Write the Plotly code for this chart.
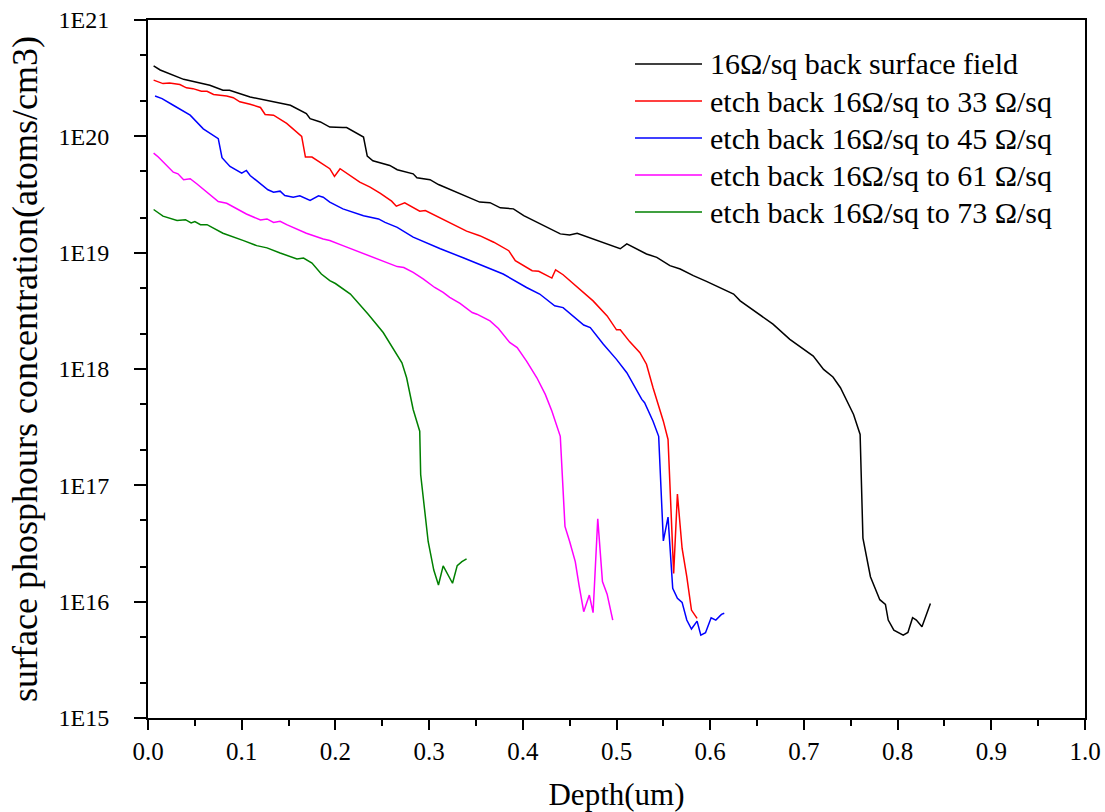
import plotly.graph_objects as go

# ---------------- data ----------------
depth_bsf = [0.006, 0.013, 0.038, 0.059, 0.066, 0.080, 0.087, 0.109, 0.127, 0.141, 0.152, 0.169, 0.173,
             0.184, 0.194, 0.208, 0.212, 0.230, 0.234, 0.240, 0.258, 0.266, 0.283, 0.287, 0.301, 0.310,
             0.333, 0.354, 0.365, 0.376, 0.390, 0.401, 0.440, 0.450, 0.458, 0.475, 0.504, 0.511, 0.532,
             0.543, 0.557, 0.568, 0.582, 0.596, 0.611, 0.625, 0.632, 0.650, 0.667, 0.685, 0.710, 0.721,
             0.731, 0.739, 0.753, 0.760, 0.763, 0.771, 0.781, 0.787, 0.790, 0.796, 0.806, 0.811, 0.816,
             0.820, 0.826, 0.835]
conc_bsf = [4.04e20, 3.72e20, 3.09e20, 2.84e20, 2.75e20, 2.49e20, 2.49e20, 2.18e20, 2.04e20, 1.91e20,
            1.85e20, 1.57e20, 1.42e20, 1.33e20, 1.20e20, 1.19e20, 1.19e20, 9.86e19, 6.76e19, 6.17e19,
            5.62e19, 5.16e19, 4.76e19, 4.41e19, 4.24e19, 3.85e19, 3.21e19, 2.72e19, 2.69e19, 2.43e19,
            2.38e19, 2.08e19, 1.45e19, 1.42e19, 1.47e19, 1.31e19, 1.08e19, 1.19e19, 9.75e18, 9.12e18,
            7.73e18, 7.24e18, 6.34e18, 5.66e18, 4.97e18, 4.41e18, 3.85e18, 3.06e18, 2.43e18, 1.80e18,
            1.29e18, 9.93e17, 8.53e17, 6.90e17, 4.07e17, 2.74e17, 3.52e16, 1.64e16, 1.04e16, 9.48e15,
            6.95e15, 5.70e15, 5.16e15, 5.43e15, 7.28e15, 6.95e15, 6.08e15, 9.66e15]

depth_33 = [0.006, 0.016, 0.023, 0.034, 0.041, 0.048, 0.057, 0.063, 0.070, 0.084, 0.091, 0.098, 0.109,
            0.120, 0.125, 0.134, 0.148, 0.164, 0.168, 0.175, 0.194, 0.199, 0.205, 0.216, 0.226, 0.237,
            0.248, 0.260, 0.265, 0.274, 0.290, 0.296, 0.312, 0.322, 0.340, 0.354, 0.369, 0.385, 0.392,
            0.410, 0.417, 0.431, 0.435, 0.443, 0.465, 0.475, 0.490, 0.500, 0.504, 0.514, 0.525, 0.532,
            0.539, 0.550, 0.555, 0.561, 0.565, 0.570, 0.575, 0.580, 0.586]
conc_33 = [3.04e20, 2.84e20, 2.88e20, 2.79e20, 2.61e20, 2.57e20, 2.44e20, 2.44e20, 2.29e20, 2.22e20,
           2.15e20, 1.98e20, 1.89e20, 1.77e20, 1.54e20, 1.52e20, 1.29e20, 1.00e20, 6.64e19, 6.64e19,
           5.27e19, 4.52e19, 5.27e19, 4.61e19, 4.04e19, 3.66e19, 3.24e19, 2.77e19, 2.51e19, 2.68e19,
           2.27e19, 2.30e19, 1.98e19, 1.79e19, 1.53e19, 1.40e19, 1.23e19, 1.04e19, 8.53e18, 7.00e18,
           6.92e18, 6.05e18, 7.13e18, 6.46e18, 4.55e18, 3.85e18, 2.86e18, 2.17e18, 2.17e18, 1.72e18,
           1.38e18, 1.10e18, 6.90e17, 3.56e17, 2.48e17, 1.75e16, 8.41e16, 2.88e16, 1.64e16, 8.47e15,
           7.18e15]

depth_45 = [0.0075, 0.015, 0.027, 0.045, 0.059, 0.075, 0.079, 0.0875, 0.100, 0.105, 0.109, 0.128, 0.134,
            0.141, 0.146, 0.155, 0.162, 0.173, 0.182, 0.187, 0.194, 0.208, 0.230, 0.246, 0.253, 0.266,
            0.283, 0.312, 0.337, 0.365, 0.379, 0.404, 0.418, 0.434, 0.443, 0.465, 0.472, 0.486, 0.500,
            0.511, 0.520, 0.527, 0.530, 0.539, 0.545, 0.550, 0.555, 0.560, 0.565, 0.570, 0.575, 0.580,
            0.586, 0.590, 0.595, 0.601, 0.606, 0.612, 0.615]
conc_45 = [2.22e20, 2.11e20, 1.85e20, 1.52e20, 1.16e20, 9.55e19, 6.55e19, 5.51e19, 4.83e19, 5.09e19,
           4.61e19, 3.47e19, 3.31e19, 3.38e19, 3.10e19, 3.00e19, 3.08e19, 2.81e19, 3.08e19, 3.00e19,
           2.72e19, 2.38e19, 2.08e19, 1.95e19, 1.82e19, 1.65e19, 1.36e19, 1.08e19, 9.00e18, 7.24e18,
           6.55e18, 5.02e18, 4.41e18, 3.49e18, 3.37e18, 2.39e18, 2.27e18, 1.63e18, 1.21e18, 9.29e17,
           6.90e17, 5.48e17, 5.13e17, 3.56e17, 2.64e17, 3.33e16, 5.33e16, 1.30e16, 1.07e16, 9.86e15,
           6.95e15, 5.82e15, 6.81e15, 5.16e15, 5.41e15, 7.28e15, 6.95e15, 7.78e15, 7.94e15]

depth_61 = [0.006, 0.011, 0.027, 0.032, 0.038, 0.045, 0.052, 0.063, 0.075, 0.084, 0.105, 0.120, 0.127,
            0.134, 0.141, 0.148, 0.169, 0.187, 0.194, 0.208, 0.230, 0.248, 0.257, 0.266, 0.273, 0.283,
            0.294, 0.306, 0.315, 0.322, 0.333, 0.346, 0.351, 0.365, 0.374, 0.386, 0.394, 0.404, 0.415,
            0.424, 0.431, 0.440, 0.445, 0.450, 0.456, 0.460, 0.465, 0.471, 0.475, 0.480, 0.485, 0.490,
            0.496]
conc_61 = [7.18e19, 6.64e19, 4.92e19, 4.76e19, 4.24e19, 4.32e19, 3.91e19, 3.31e19, 2.75e19, 2.66e19,
           2.15e19, 1.91e19, 1.95e19, 1.82e19, 1.86e19, 1.74e19, 1.47e19, 1.31e19, 1.27e19, 1.15e19,
           9.75e18, 8.53e18, 8.09e18, 7.59e18, 7.46e18, 6.76e18, 5.93e18, 5.02e18, 4.55e18, 4.12e18,
           3.66e18, 3.06e18, 2.96e18, 2.59e18, 2.23e18, 1.69e18, 1.53e18, 1.17e18, 8.41e17, 6.05e17,
           4.35e17, 2.64e17, 4.44e16, 3.29e16, 2.21e16, 1.39e16, 8.20e15, 1.14e16, 8.04e15, 5.16e16,
           1.49e16, 1.16e16, 6.95e15]

depth_73 = [0.006, 0.016, 0.031, 0.040, 0.046, 0.050, 0.056, 0.063, 0.080, 0.095, 0.102, 0.116, 0.127,
            0.141, 0.159, 0.166, 0.175, 0.185, 0.194, 0.200, 0.216, 0.235, 0.251, 0.271, 0.276, 0.283,
            0.290, 0.291, 0.295, 0.299, 0.305, 0.310, 0.315, 0.325, 0.330, 0.335, 0.340]
conc_73 = [2.35e19, 2.06e19, 1.89e19, 1.92e19, 1.80e19, 1.85e19, 1.74e19, 1.74e19, 1.47e19, 1.34e19,
           1.27e19, 1.15e19, 1.10e19, 9.93e18, 8.83e18, 8.99e18, 8.15e18, 6.55e18, 5.74e18, 5.43e18,
           4.41e18, 2.96e18, 2.06e18, 1.13e18, 8.41e17, 4.49e17, 2.92e17, 1.24e17, 5.97e16, 3.29e16,
           1.87e16, 1.39e16, 2.03e16, 1.44e16, 2.04e16, 2.21e16, 2.33e16]

series_names = ["16\u03a9/sq back surface field",
                "etch back 16\u03a9/sq to 33 \u03a9/sq",
                "etch back 16\u03a9/sq to 45 \u03a9/sq",
                "etch back 16\u03a9/sq to 61 \u03a9/sq",
                "etch back 16\u03a9/sq to 73 \u03a9/sq"]
series_colors = ["#000000", "#FF0000", "#0000FF", "#FF00FF", "#008000"]

y_tick_values = [1e15, 1e16, 1e17, 1e18, 1e19, 1e20, 1e21]
y_tick_labels = ["1E15", "1E16", "1E17", "1E18", "1E19", "1E20", "1E21"]

x_title = "Depth(um)"
y_title = "surface phosphours concentration(atoms/cm3)"

# ---------------- layout constants ----------------
FONT = "Liberation Serif, Times New Roman, serif"
W, H = 1105, 812
ML, MR, MT, MB = 148, 20, 20, 94
PW, PH = W - ML - MR, H - MT - MB


def px_to_paper_x(px):
    return (px - ML) / PW


def px_to_paper_y(py):
    return 1 - (py - MT) / PH


fig = go.Figure()
for xs, ys, name, col in zip([depth_bsf, depth_33, depth_45, depth_61, depth_73],
                             [conc_bsf, conc_33, conc_45, conc_61, conc_73],
                             series_names, series_colors):
    fig.add_trace(go.Scatter(x=xs, y=ys, mode="lines", name=name, showlegend=False,
                             line=dict(color=col, width=1.5)))

# legend drawn as sample lines + text (to match the reference's spacing)
LEG_LINE_X0, LEG_LINE_X1, LEG_TEXT_X = 635, 702, 708
LEG_ROW_Y0, LEG_ROW_GAP = 64, 37
for i, (name, col) in enumerate(zip(series_names, series_colors)):
    ry = LEG_ROW_Y0 + i * LEG_ROW_GAP
    fig.add_shape(type="line", xref="paper", yref="paper",
                  x0=px_to_paper_x(LEG_LINE_X0), x1=px_to_paper_x(LEG_LINE_X1),
                  y0=px_to_paper_y(ry), y1=px_to_paper_y(ry),
                  line=dict(color=col, width=1.5))
    fig.add_annotation(xref="paper", yref="paper", x=px_to_paper_x(LEG_TEXT_X), y=px_to_paper_y(ry),
                       xanchor="left", yanchor="middle", text=name, showarrow=False,
                       font=dict(family=FONT, size=30, color="black"))

fig.update_layout(
    width=W, height=H,
    margin=dict(l=ML, r=MR, t=MT, b=MB),
    paper_bgcolor="white", plot_bgcolor="white",
    font=dict(family=FONT, color="black", size=24),
    showlegend=False,
)

fig.update_xaxes(
    range=[0, 1.0], dtick=0.1, tickformat=".1f", automargin=False,
    showline=True, linecolor="black", linewidth=2, mirror=True,
    ticks="outside", ticklen=10, tickwidth=2, tickcolor="black",
    minor=dict(dtick=0.05, ticks="outside", ticklen=6, tickwidth=2, tickcolor="black", showgrid=False),
    showgrid=False, zeroline=False,
    tickfont=dict(family=FONT, size=25),
    title=dict(text=x_title, font=dict(family=FONT, size=31), standoff=20),
)

fig.update_yaxes(
    type="log", range=[15, 21], automargin=False,
    tickvals=y_tick_values, ticktext=y_tick_labels,
    showline=True, linecolor="black", linewidth=2, mirror=True,
    ticks="outside", ticklen=12, tickwidth=2, tickcolor="black",
    minor=dict(ticks="outside", ticklen=6, tickwidth=2, tickcolor="black", showgrid=False),
    showgrid=False, zeroline=False, ticklabelstandoff=20,
    tickfont=dict(family=FONT, size=24),
    title=dict(text=y_title, font=dict(family=FONT, size=36), standoff=10),
)

fig.write_html("out.html")
